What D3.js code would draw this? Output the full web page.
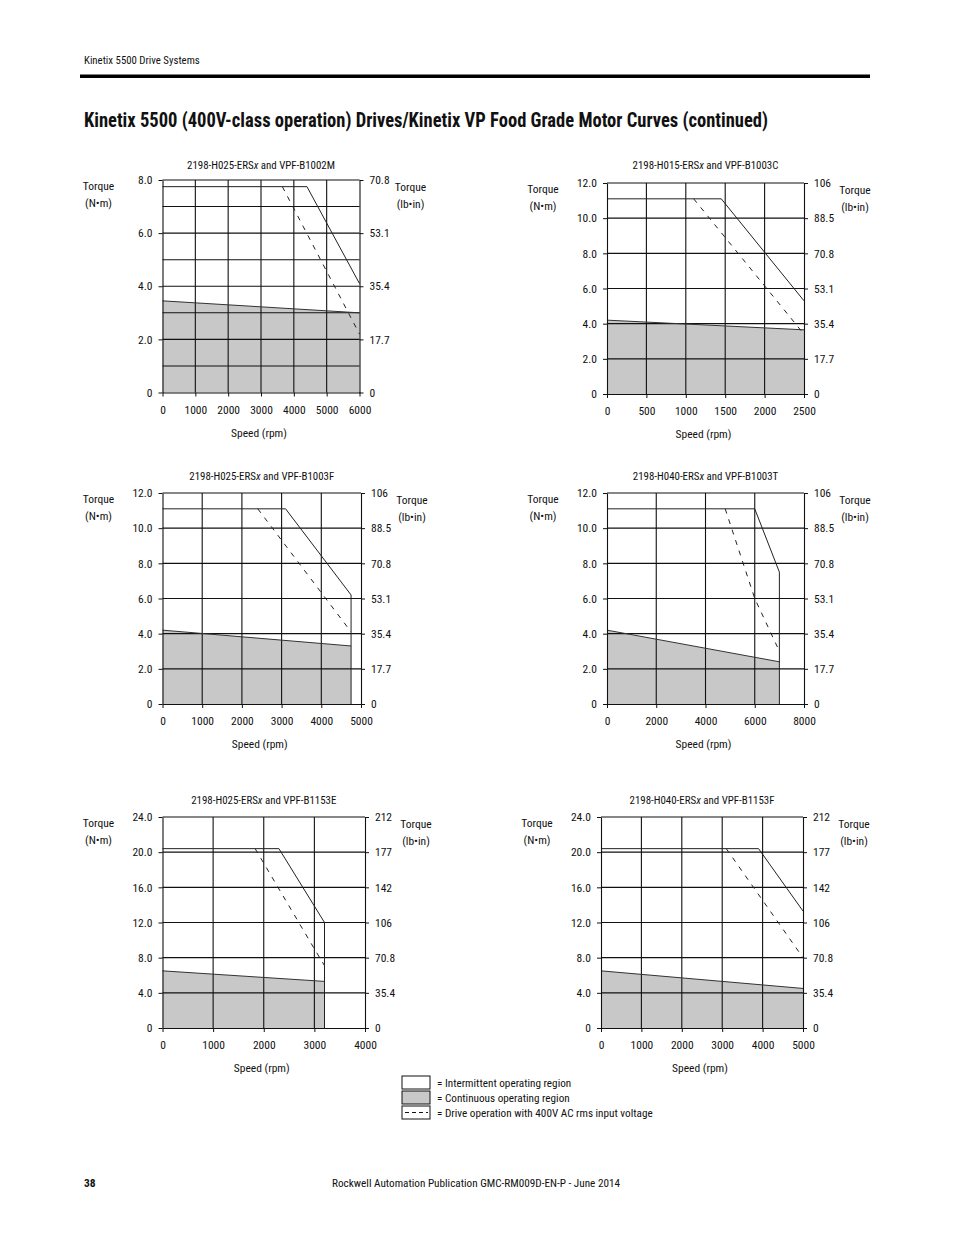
<!DOCTYPE html>
<html>
<head>
<meta charset="utf-8">
<script src="https://cdn.jsdelivr.net/npm/d3@7"></script>
<style>
  body { margin: 0; background: #fff; }
  svg text { font-family: "Liberation Sans Narrow", "Arial Narrow", "Roboto Condensed", "DejaVu Sans Condensed", sans-serif; fill: #111; }
  .tick text { font-size: 11.5px; }
  .tick line, .domain { stroke: #111; }
</style>
</head>
<body>
<div id="page"></div>
<script>
// chart titles (drive / motor pairing)
const titles = [
  ["2198-H025-ERS", "x", " and VPF-B1002M"],
  ["2198-H015-ERS", "x", " and VPF-B1003C"],
  ["2198-H025-ERS", "x", " and VPF-B1003F"],
  ["2198-H040-ERS", "x", " and VPF-B1003T"],
  ["2198-H025-ERS", "x", " and VPF-B1153E"],
  ["2198-H040-ERS", "x", " and VPF-B1153F"]
];
const speedMax = [6000, 2500, 5000, 8000, 4000, 5000];
const torqueMax = [8, 12, 12, 12, 24, 24];
const speedTicks = [
  [0, 1000, 2000, 3000, 4000, 5000, 6000],
  [0, 500, 1000, 1500, 2000, 2500],
  [0, 1000, 2000, 3000, 4000, 5000],
  [0, 2000, 4000, 6000, 8000],
  [0, 1000, 2000, 3000, 4000],
  [0, 1000, 2000, 3000, 4000, 5000]
];
const torqueTicks = [
  [0, 2, 4, 6, 8],
  [0, 2, 4, 6, 8, 10, 12],
  [0, 2, 4, 6, 8, 10, 12],
  [0, 2, 4, 6, 8, 10, 12],
  [0, 4, 8, 12, 16, 20, 24],
  [0, 4, 8, 12, 16, 20, 24]
];
const lbinLabels = [
  ["0", "17.7", "35.4", "53.1", "70.8"],
  ["0", "17.7", "35.4", "53.1", "70.8", "88.5", "106"],
  ["0", "17.7", "35.4", "53.1", "70.8", "88.5", "106"],
  ["0", "17.7", "35.4", "53.1", "70.8", "88.5", "106"],
  ["0", "35.4", "70.8", "106", "142", "177", "212"],
  ["0", "35.4", "70.8", "106", "142", "177", "212"]
];
// horizontal grid lines (N·m)
const gridTorque = [
  [1, 2, 3, 4, 5, 6, 7],
  [2, 4, 6, 8, 10],
  [2, 4, 6, 8, 10],
  [2, 4, 6, 8, 10],
  [4, 8, 12, 16, 20],
  [4, 8, 12, 16, 20]
];
// vertical grid lines (rpm)
const gridSpeed = [
  [1000, 2000, 3000, 4000, 5000],
  [500, 1000, 1500, 2000],
  [1000, 2000, 3000, 4000],
  [2000, 4000, 6000],
  [1000, 2000, 3000],
  [1000, 2000, 3000, 4000]
];
// intermittent (peak) torque curves [rpm, N·m]
const peakCurves = [
  [[0, 7.75], [4400, 7.75], [6000, 4.1]],
  [[0, 11.1], [1450, 11.1], [2500, 5.3]],
  [[0, 11.1], [3100, 11.1], [4750, 6.2], [4750, 0]],
  [[0, 11.1], [6000, 11.1], [7000, 7.5], [7000, 0]],
  [[0, 20.4], [2300, 20.4], [3200, 12.0], [3200, 0]],
  [[0, 20.4], [3900, 20.4], [5000, 13.3]]
];
// 400V AC input curves (dashed)
const dashCurves = [
  [[3650, 7.75], [6000, 2.2]],
  [[1100, 11.1], [2500, 3.4]],
  [[2400, 11.1], [4750, 4.1]],
  [[4800, 11.1], [6000, 6.0], [7000, 3.0]],
  [[1830, 20.4], [3000, 9.0], [3200, 7.1]],
  [[3100, 20.4], [5000, 8.0]]
];
// continuous torque curves
const contCurves = [
  [[0, 3.45], [6000, 3.0]],
  [[0, 4.2], [2500, 3.65]],
  [[0, 4.2], [4750, 3.3]],
  [[0, 4.2], [7000, 2.4]],
  [[0, 6.5], [3200, 5.3]],
  [[0, 6.5], [5000, 4.5]]
];

// plot boxes on the page: [left, right, top, bottom, title baseline]
const frames = [
  [162.5, 359.5, 180, 392.5, 169],
  [607, 804, 183, 394, 169],
  [162.5, 361, 493, 704, 480],
  [607, 804, 493, 704, 480],
  [162.5, 365, 817, 1028, 804],
  [601, 803, 817, 1028, 804]
];

const W = 954, H = 1235;
const svg = d3.select("#page").append("svg")
  .attr("width", W).attr("height", H)
  .attr("viewBox", `0 0 ${W} ${H}`);

// page header
svg.append("text").attr("x", 84).attr("y", 64)
  .style("font-size", "10.8px").text("Kinetix 5500 Drive Systems");
svg.append("rect").attr("x", 80).attr("y", 74.5).attr("width", 790).attr("height", 3.5).attr("fill", "#000");
svg.append("text").attr("x", 84).attr("y", 127)
  .attr("textLength", 684).attr("lengthAdjust", "spacingAndGlyphs")
  .style("font-size", "20px").style("font-weight", "bold")
  .text("Kinetix 5500 (400V-class operation) Drives/Kinetix VP Food Grade Motor Curves (continued)");

const gray = "#c8c8c8";

function drawChart(i) {
  const [x0, x1, y0, y1, ty] = frames[i];
  const x = d3.scaleLinear().domain([0, speedMax[i]]).range([x0, x1]);
  const y = d3.scaleLinear().domain([0, torqueMax[i]]).range([y1, y0]);
  const g = svg.append("g").attr("class", "chart");

  // continuous region
  g.append("path")
    .datum(contCurves[i])
    .attr("fill", gray)
    .attr("d", d3.area().x(d => x(d[0])).y0(y(0)).y1(d => y(d[1])));

  // grid
  g.selectAll(".hgrid").data(gridTorque[i]).enter().append("line")
    .attr("x1", x0).attr("x2", x1)
    .attr("y1", d => y(d)).attr("y2", d => y(d))
    .attr("stroke", "#111").attr("stroke-width", 1.1);
  g.selectAll(".vgrid").data(gridSpeed[i]).enter().append("line")
    .attr("y1", y0).attr("y2", y1)
    .attr("x1", d => x(d)).attr("x2", d => x(d))
    .attr("stroke", "#111").attr("stroke-width", 1.1);
  g.append("line").attr("x1", x0).attr("x2", x1).attr("y1", y0).attr("y2", y0)
    .attr("stroke", "#111").attr("stroke-width", 1.1);

  const line = d3.line().x(d => x(d[0])).y(d => y(d[1]));

  g.append("path").datum(contCurves[i])
    .attr("fill", "none").attr("stroke", "#333").attr("stroke-width", 1)
    .attr("d", line);
  g.append("path").datum(peakCurves[i])
    .attr("fill", "none").attr("stroke", "#222").attr("stroke-width", 1)
    .attr("d", line);
  g.append("path").datum(dashCurves[i])
    .attr("fill", "none").attr("stroke", "#222").attr("stroke-width", 1)
    .attr("stroke-dasharray", "5,6")
    .attr("d", line);

  // axes
  const fmt = d => d === 0 ? "0" : d.toFixed(1);
  const left = g.append("g").attr("transform", `translate(${x0},0)`)
    .call(d3.axisLeft(y).tickValues(torqueTicks[i]).tickFormat(fmt).tickSize(4).tickSizeOuter(0).tickPadding(6));
  const right = g.append("g").attr("transform", `translate(${x1},0)`)
    .call(d3.axisRight(y).tickValues(torqueTicks[i]).tickFormat((d, k) => lbinLabels[i][k]).tickSize(4).tickSizeOuter(0).tickPadding(6));
  const bottom = g.append("g").attr("transform", `translate(0,${y1})`)
    .call(d3.axisBottom(x).tickValues(speedTicks[i]).tickFormat(d3.format("d")).tickSize(4).tickSizeOuter(0).tickPadding(9));
  [left, right, bottom].forEach(a => {
    a.attr("font-family", null).attr("font-size", null);
    a.select(".domain").attr("stroke-width", 1.1);
  });

  // title
  const cx = (x0 + x1) / 2;
  const t = g.append("text").attr("x", cx).attr("y", ty)
    .attr("text-anchor", "middle").style("font-size", "10.9px");
  t.append("tspan").text(titles[i][0]);
  t.append("tspan").style("font-style", "italic").text(titles[i][1]);
  t.append("tspan").text(titles[i][2]);

  // axis titles
  const lt = g.append("text").attr("text-anchor", "middle").style("font-size", "11.5px");
  lt.append("tspan").attr("x", x0 - 64).attr("y", y0 + 10).text("Torque");
  lt.append("tspan").attr("x", x0 - 64).attr("y", y0 + 27).text("(N•m)");
  const rt = g.append("text").attr("text-anchor", "middle").style("font-size", "11.5px");
  rt.append("tspan").attr("x", x1 + 51).attr("y", y0 + 11).text("Torque");
  rt.append("tspan").attr("x", x1 + 51).attr("y", y0 + 28).text("(lb•in)");

  g.append("text").attr("x", cx - 2).attr("y", y1 + 44)
    .attr("text-anchor", "middle").style("font-size", "11.5px").text("Speed (rpm)");
}

d3.range(6).forEach(drawChart);

// legend
const legendItems = [
  "= Intermittent operating region",
  "= Continuous operating region",
  "= Drive operation with 400V AC rms input voltage"
];
const lg = svg.append("g").attr("transform", "translate(402,1076)");
const rows = lg.selectAll("g").data(legendItems).enter().append("g")
  .attr("transform", (d, k) => `translate(0,${k * 15})`);
rows.append("rect").attr("width", 28).attr("height", 13)
  .attr("fill", (d, k) => k === 1 ? gray : "#fff")
  .attr("stroke", "#111").attr("stroke-width", 1);
rows.filter((d, k) => k === 2).append("line")
  .attr("x1", 3).attr("x2", 26).attr("y1", 6.5).attr("y2", 6.5)
  .attr("stroke", "#111").attr("stroke-dasharray", "4,3");
rows.append("text").attr("x", 35).attr("y", 10.5)
  .style("font-size", "11.2px").text(d => d);

// footer
svg.append("text").attr("x", 84).attr("y", 1187)
  .style("font-size", "11.5px").style("font-weight", "bold").text("38");
svg.append("text").attr("x", 476).attr("y", 1187).attr("text-anchor", "middle")
  .style("font-size", "11.2px").text("Rockwell Automation Publication GMC-RM009D-EN-P - June 2014");
</script>
</body>
</html>
